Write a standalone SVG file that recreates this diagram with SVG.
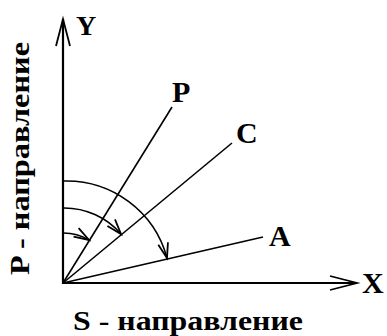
<svg xmlns="http://www.w3.org/2000/svg" width="387" height="336" viewBox="0 0 387 336">
<style>
text{font-family:"Liberation Serif","Times New Roman",serif;font-weight:bold;fill:#000}
.ax{stroke:#000;stroke-width:2.2;fill:none}
.ln{stroke:#000;stroke-width:1.6;fill:none}
.arc{stroke:#000;stroke-width:1.6;fill:none}
</style>
<defs>
<marker id="axArrow" markerUnits="userSpaceOnUse" markerWidth="40" markerHeight="20" viewBox="-30 -10 32 20" refX="0" refY="0" orient="auto">
<path d="M-27,-7 L0,0 L-27,7" fill="none" stroke="#000" stroke-width="1.8"/>
</marker>
<marker id="arcArrow" markerUnits="userSpaceOnUse" markerWidth="30" markerHeight="20" viewBox="-20 -10 22 20" refX="0" refY="0" orient="auto">
<path d="M-15,-5 L0,0 L-15,5" fill="none" stroke="#000" stroke-width="1.8"/>
</marker>
</defs>
<g id="connectors">
<line class="ax" x1="63" y1="284" x2="63" y2="19" marker-end="url(#axArrow)"/>
<line class="ax" x1="62" y1="283" x2="357" y2="283" marker-end="url(#axArrow)"/>
<line class="ln" x1="63" y1="283" x2="172" y2="107"/>
<line class="ln" x1="63" y1="283" x2="232" y2="143"/>
<line class="ln" x1="63" y1="283" x2="263" y2="237"/>
<path class="arc" d="M63,233 A50,50 0 0 1 89,240" marker-end="url(#arcArrow)"/>
<path class="arc" d="M63,208 A75,75 0 0 1 121,234" marker-end="url(#arcArrow)"/>
<path class="arc" d="M63,181 A104,104 0 0 1 167,258" marker-end="url(#arcArrow)"/>
</g>
<g id="label-Y"><text x="76" y="35" font-size="28">Y</text></g>
<g id="label-P"><text x="172" y="102" font-size="30">P</text></g>
<g id="label-C"><text x="236" y="143" font-size="30">C</text></g>
<g id="label-A"><text x="269" y="246" font-size="30">A</text></g>
<g id="label-X"><text x="362" y="293" font-size="30">X</text></g>
<g id="label-S"><text x="73" y="330" font-size="27" textLength="230" lengthAdjust="spacingAndGlyphs">S - направление</text></g>
<g id="label-Pdir"><text transform="translate(29,275) rotate(-90)" x="0" y="0" font-size="27" textLength="233" lengthAdjust="spacingAndGlyphs">P - направление</text></g>
</svg>
